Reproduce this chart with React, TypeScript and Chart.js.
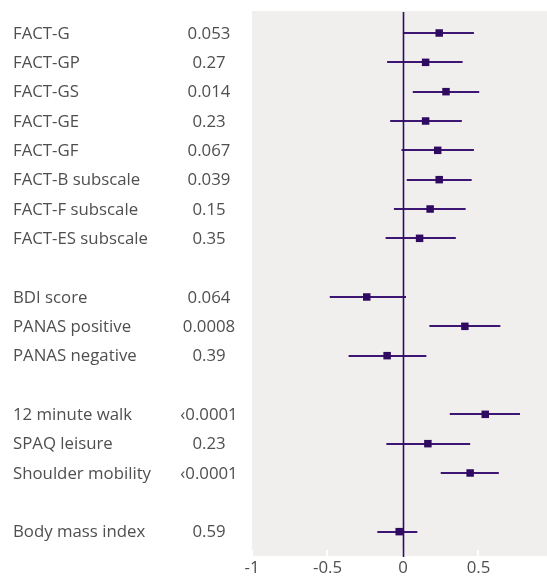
import React, { useEffect, useRef } from "react";
import { Chart, registerables } from "chart.js";

Chart.register(...registerables);

const categories = [
  "FACT-G", "FACT-GP", "FACT-GS", "FACT-GE", "FACT-GF", "FACT-B subscale", "FACT-F subscale", "FACT-ES subscale", "",
  "BDI score", "PANAS positive", "PANAS negative", "",
  "12 minute walk", "SPAQ leisure", "Shoulder mobility", "",
  "Body mass index",
];
const pValues = [
  "0.053", "0.27", "0.014", "0.23", "0.067", "0.039", "0.15", "0.35", "",
  "0.064", "0.0008", "0.39", "",
  "\u20390.0001", "0.23", "\u20390.0001", "",
  "0.59",
];
const estimates = [0.24, 0.15, 0.285, 0.15, 0.23, 0.24, 0.18, 0.11, null, -0.24, 0.41, -0.105, null, 0.545, 0.165, 0.445, null, -0.025];
const lower = [0.0, -0.105, 0.065, -0.085, -0.01, 0.025, -0.06, -0.115, null, -0.485, 0.175, -0.36, null, 0.31, -0.11, 0.25, null, -0.17];
const upper = [0.47, 0.395, 0.505, 0.39, 0.47, 0.455, 0.415, 0.35, null, 0.02, 0.645, 0.155, null, 0.775, 0.445, 0.635, null, 0.095];
const xTicks = [-1, -0.5, 0, 0.5];

const PURPLE = "#2f0a60";
const BAR = "#3d1673";
const BG = "#f0efee";
const TEXT = "#4f4f4f";
const FONT = "'Open Sans', sans-serif";

export default function App() {
  const ref = useRef<HTMLCanvasElement | null>(null);
  useEffect(() => {
    document.body.style.margin = "0";
    const canvas = ref.current!;
    const points: { x: number; y: number }[] = [];
    estimates.forEach((e, i) => {
      if (e !== null) points.push({ x: e, y: i });
    });
    const forestPlugin = {
      id: "forest",
      beforeDatasetsDraw(chart: any) {
        const { ctx, chartArea, scales } = chart;
        const x = scales.x;
        const y = scales.y;
        ctx.save();
        ctx.fillStyle = BG;
        ctx.fillRect(chartArea.left, chartArea.top, chartArea.right - chartArea.left, chartArea.bottom - chartArea.top);
        ctx.strokeStyle = "#ffffff";
        ctx.lineWidth = 2;
        xTicks.forEach((t) => {
          const px = Math.round(x.getPixelForValue(t));
          ctx.beginPath();
          ctx.moveTo(px, chartArea.bottom - 6);
          ctx.lineTo(px, chartArea.bottom);
          ctx.stroke();
        });
        ctx.strokeStyle = BAR;
        ctx.lineWidth = 2;
        estimates.forEach((e, i) => {
          if (e === null) return;
          const py = Math.round(y.getPixelForValue(i));
          ctx.beginPath();
          ctx.moveTo(x.getPixelForValue(lower[i] as number), py);
          ctx.lineTo(x.getPixelForValue(upper[i] as number), py);
          ctx.stroke();
        });
        const zx = Math.round(x.getPixelForValue(0)) + 0.5;
        ctx.strokeStyle = PURPLE;
        ctx.lineWidth = 1.6;
        ctx.beginPath();
        ctx.moveTo(zx, chartArea.top + 1);
        ctx.lineTo(zx, chartArea.bottom + 1);
        ctx.stroke();
        ctx.restore();
      },
      afterDraw(chart: any) {
        const { ctx, scales } = chart;
        const y = scales.y;
        ctx.save();
        ctx.fillStyle = TEXT;
        ctx.font = `16.8px ${FONT}`;
        ctx.textBaseline = "middle";
        categories.forEach((c, i) => {
          const py = y.getPixelForValue(i) + 1;
          ctx.textAlign = "left";
          ctx.fillText(c, 13, py);
          ctx.textAlign = "center";
          ctx.fillText(pValues[i], 209, py);
        });
        ctx.restore();
      },
    };
    const chart = new Chart(canvas, {
      type: "scatter",
      data: {
        datasets: [
          {
            data: points,
            pointStyle: "rect",
            pointRadius: 5.3,
            backgroundColor: PURPLE,
            borderColor: PURPLE,
            borderWidth: 0,
          },
        ],
      },
      options: {
        animation: false,
        responsive: false,
        devicePixelRatio: 1,
        layout: { autoPadding: false, padding: { left: 252, right: 0, top: 11, bottom: 0 } },
        plugins: { legend: { display: false }, tooltip: { enabled: false } },
        scales: {
          x: {
            type: "linear",
            min: -1,
            max: 0.954,
            afterBuildTicks: (s: any) => {
              s.ticks = xTicks.map((v) => ({ value: v }));
            },
            afterFit: (s: any) => {
              s.height = 22;
            },
            ticks: {
              color: TEXT,
              font: { family: FONT, size: 16.8 },
              padding: 2,
              maxRotation: 0,
              callback: (v: any) => String(v),
            },
            grid: { display: false, drawTicks: false },
            border: { display: false },
          },
          y: {
            type: "linear",
            reverse: true,
            min: -0.75,
            max: 17.83,
            display: false,
          },
        },
      },
      plugins: [forestPlugin],
    });
    return () => chart.destroy();
  }, []);
  return (
    <div style={{ width: 547, height: 578 }}>
      <canvas ref={ref} width={547} height={578} />
    </div>
  );
}
